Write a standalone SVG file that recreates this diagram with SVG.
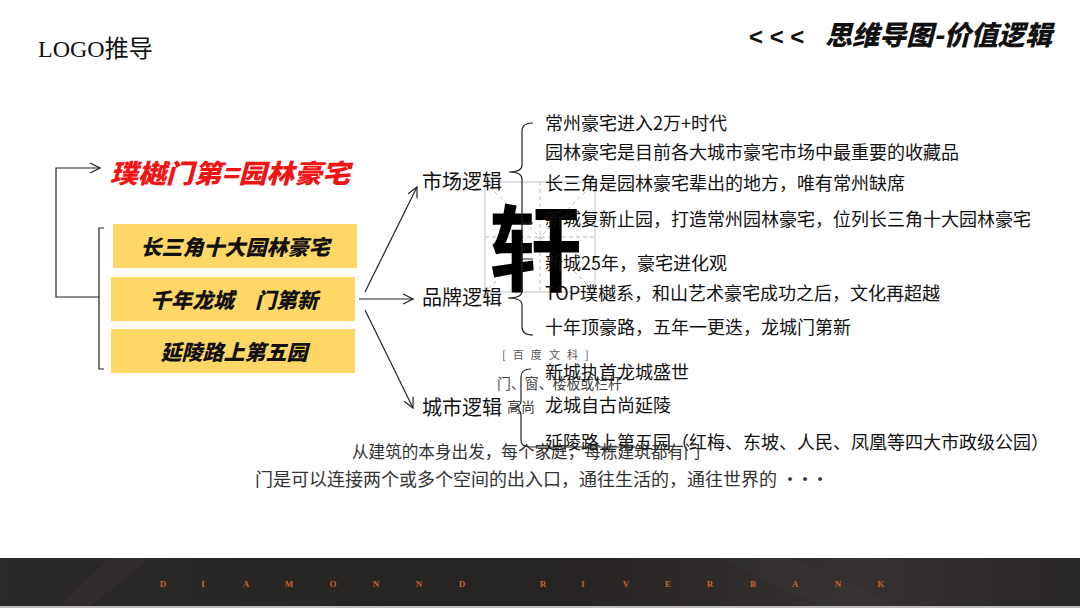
<svg xmlns="http://www.w3.org/2000/svg" width="1080" height="608" viewBox="0 0 1080 608">
<defs>
<marker id="arr" viewBox="0 0 12 12" refX="11" refY="6" markerWidth="12" markerHeight="12" markerUnits="userSpaceOnUse" orient="auto">
<path d="M1,1 L11,6 L1,11" fill="none" stroke="#222" stroke-width="1.2"/>
</marker>
<linearGradient id="foot" x1="0" y1="0" x2="1" y2="0">
<stop offset="0" stop-color="#2c2929"/>
<stop offset="0.5" stop-color="#262323"/>
<stop offset="0.8" stop-color="#343130"/>
<stop offset="1" stop-color="#2a2727"/>
</linearGradient>
<style>
.cjk{font-family:"Noto Sans CJK SC","Noto Sans",sans-serif}
.bi{font-family:"Noto Sans CJK SC","Noto Sans",sans-serif;font-weight:900;font-style:italic}
.item{font-family:"Noto Sans CJK SC","Noto Sans",sans-serif;font-size:18px;fill:#111}
.lab{font-family:"Noto Sans CJK SC","Noto Sans",sans-serif;font-size:20px;fill:#111}
.box{fill:#ffd766}
.ln{fill:none;stroke:#222;stroke-width:1.2}
.grid{fill:none;stroke:#c4c4c4;stroke-width:1}
.dash{fill:none;stroke:#bdbdbd;stroke-width:1;stroke-dasharray:4 3}
.gray{font-family:"Noto Sans CJK SC","Noto Sans",sans-serif;fill:#555}
</style>
</defs>
<rect width="1080" height="608" fill="#fff"/>

<g id="header">
<text x="38" y="57" font-family="Liberation Serif,'Noto Sans CJK SC',serif" font-size="24" fill="#111">LOGO推导</text>
<text x="749" y="45" font-family="Liberation Sans,sans-serif" font-weight="bold" font-size="24" fill="#111">&lt; &lt; &lt;</text>
<text x="825" y="45" class="bi" font-size="27" fill="#111" textLength="227" lengthAdjust="spacingAndGlyphs">思维导图-价值逻辑</text>
</g>

<g id="xuan">
<rect x="485" y="182" width="110" height="110" class="grid"/>
<path d="M485,237 H595 M540,182 V292 M485,182 L595,292 M595,182 L485,292" class="dash"/>
<text x="535" y="284" text-anchor="middle" class="cjk" font-weight="bold" font-size="94" fill="#000">轩</text>
</g>

<g id="connectors">
<path d="M99,297 H56 V168 H100" class="ln" marker-end="url(#arr)"/>
<path d="M104,228 H99 V369 H104" class="ln"/>
<path d="M365,292 L417,187" class="ln" marker-end="url(#arr)"/>
<path d="M359,299 L413,299" class="ln" marker-end="url(#arr)"/>
<path d="M365,310 L413,408" class="ln" marker-end="url(#arr)"/>
<path d="M533,123 Q522,123 522,131 V165 Q522,172 509,172 Q522,172 522,179 V291 Q522,298 508,298 Q522,298 522,305 V327 Q522,335 533,335" class="ln"/>
<path d="M522,223 H533 M522,259 H533" class="ln"/>
<path d="M531,369 Q521,369 521,377 V401 Q521,408 510,408 Q521,408 521,415 V440 Q521,447 530,447 H635" class="ln"/>
</g>

<g id="top-node">
<text x="110" y="183" class="bi" font-size="26" fill="#f01414" textLength="240" lengthAdjust="spacingAndGlyphs">璞樾门第=园林豪宅</text>
</g>

<g id="box1"><rect x="113" y="224" width="244" height="44" class="box"/>
<text x="235" y="255" text-anchor="middle" class="bi" font-size="21" fill="#111">长三角十大园林豪宅</text></g>
<g id="box2"><rect x="111" y="277" width="244" height="44" class="box"/>
<text x="234" y="308" text-anchor="middle" class="bi" font-size="21" fill="#111">千年龙城　门第新</text></g>
<g id="box3"><rect x="111" y="329" width="244" height="44" class="box"/>
<text x="234" y="360" text-anchor="middle" class="bi" font-size="21" fill="#111">延陵路上第五园</text></g>

<g id="gray-notes">
<text x="502" y="359" class="gray" font-size="11" letter-spacing="2.3">[ 百 度 文 科 ]</text>
<text x="497" y="389" font-family="Liberation Serif,'Noto Sans CJK SC',serif" font-size="15" fill="#444" textLength="125" lengthAdjust="spacingAndGlyphs">门、窗、楼板或栏杆</text>
<text x="507" y="412" font-family="Liberation Serif,'Noto Sans CJK SC',serif" font-size="14" fill="#444">高尚</text>
</g>

<g id="market"><text x="422" y="189" class="lab">市场逻辑</text></g>
<g id="brand"><text x="422" y="305" class="lab">品牌逻辑</text></g>
<g id="city"><text x="422" y="415" class="lab">城市逻辑</text></g>

<g id="market-items">
<text x="545" y="130" class="item">常州豪宅进入2万+时代</text>
<text x="545" y="159" class="item">园林豪宅是目前各大城市豪宅市场中最重要的收藏品</text>
<text x="545" y="190" class="item">长三角是园林豪宅辈出的地方，唯有常州缺席</text>
<text x="545" y="226" class="item">新城复新止园，打造常州园林豪宅，位列长三角十大园林豪宅</text>
</g>
<g id="brand-items">
<text x="545" y="270" class="item">新城25年，豪宅进化观</text>
<text x="545" y="300" class="item">TOP璞樾系，和山艺术豪宅成功之后，文化再超越</text>
<text x="545" y="334" class="item">十年顶豪路，五年一更迭，龙城门第新</text>
</g>
<g id="city-items">
<text x="545" y="379" class="item">新城执首龙城盛世</text>
<text x="545" y="412" class="item">龙城自古尚延陵</text>
<text x="545" y="449" class="item">延陵路上第五园（红梅、东坡、人民、凤凰等四大市政级公园）</text>
</g>

<g id="bottom-text">
<text x="352" y="458" class="cjk" font-size="16.6" fill="#333">从建筑的本身出发，每个家庭，每栋建筑都有门</text>
<text x="255" y="486" class="cjk" font-size="18" fill="#333">门是可以连接两个或多个空间的出入口，通往生活的，通往世界的<tspan x="781">·</tspan><tspan x="796">·</tspan><tspan x="811">·</tspan></text>
</g>

<g id="footer">
<rect x="0" y="558" width="1080" height="48" fill="url(#foot)"/>
<path d="M60,606 L110,558 H150 L90,606 Z" fill="#3a3635" opacity="0.35"/>
<path d="M720,558 H790 L900,606 H820 Z" fill="#3b3837" opacity="0.3"/>
<rect x="0" y="606" width="1080" height="2" fill="#bdbdbd"/>
<text y="587" text-anchor="middle" font-family="Liberation Serif,serif" font-weight="bold" font-size="9" fill="#c4622c" x="163 203 246 289 333 376 419 462 543 583 626 668 710 753 795 838 881">DIAMONNDRIVERBANK</text>
</g>
</svg>
